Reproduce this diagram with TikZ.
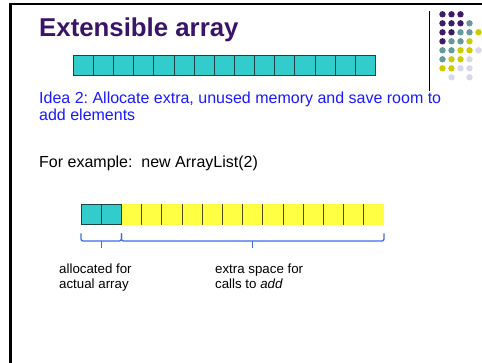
\documentclass[tikz,border=0pt]{standalone}
\usepackage{fontspec}
\setmainfont{Liberation Sans}
\frenchspacing
\definecolor{titlepurple}{HTML}{3A1468}
\definecolor{cellteal}{HTML}{33CCCC}
\definecolor{celledge}{HTML}{1E4444}
\definecolor{cellyellow}{HTML}{FFFF44}
\definecolor{yedge}{HTML}{4D4D1A}
\definecolor{ideablue}{HTML}{1A1AFF}
\definecolor{braceblue}{HTML}{3C6EE6}
\definecolor{dotP}{HTML}{3F1A66}
\definecolor{dotT}{HTML}{669999}
\definecolor{dotY}{HTML}{CCCC00}
\definecolor{dotL}{HTML}{D8D8EC}
\begin{document}
\begin{tikzpicture}[x=1pt,y=-1pt,
  tealcell/.style={draw=celledge,fill=cellteal,line width=1pt,minimum width=20.15pt,minimum height=20pt,inner sep=0pt,outer sep=0pt,anchor=north west},
  ycell/.style={fill=cellyellow,draw=none,minimum width=20.2pt,minimum height=20.7pt,inner sep=0pt,outer sep=0pt,anchor=north west},
  ysep/.style={draw=yedge,line width=0.9pt},
  brace/.style={draw=braceblue,line width=1.3pt,rounded corners=2pt},
  txt/.style={anchor=base west,inner sep=0pt},
  idea/.style={txt,text=ideablue,font=\fontsize{16}{18}\selectfont},
  body/.style={txt,text=black,font=\fontsize{16}{18}\selectfont},
  lbl/.style={txt,text=black,font=\fontsize{13.3}{15}\selectfont}]
\useasboundingbox (0,0) rectangle (482,363);
\fill[white] (0,0) rectangle (482,363);
% frame
\draw[line width=2pt] (9,4) -- (482,4);
\draw[line width=3pt] (10.5,3) -- (10.5,363);
% title
\node[txt,text=titlepurple,font=\fontsize{25.8}{30}\selectfont\bfseries] (title) at (39,36.7) {Extensible array};
% decoration: vertical rule and dots
\draw[line width=0.9pt] (429.3,11.5) -- (429.3,91);
\foreach \c/\r in {0/0,1/0,2/0,0/1,1/1,2/1,0/2,1/2,0/3}
  \fill[dotP] ({442.5+9*\c},{14.3+9*\r}) circle[radius=3.2pt];
\foreach \c/\r in {3/1,2/2,3/2,1/3,2/3,0/4,1/4,0/5}
  \fill[dotT] ({442.5+9*\c},{14.3+9*\r}) circle[radius=3.2pt];
\foreach \c/\r in {4/2,3/3,2/4,3/4,1/5,2/5,0/6,1/6}
  \fill[dotY] ({442.5+9*\c},{14.3+9*\r}) circle[radius=3.2pt];
\foreach \c/\r in {4/4,3/5,2/6,3/6,1/7,3/7}
  \fill[dotL] ({442.5+9*\c},{14.3+9*\r}) circle[radius=3.2pt];
% top array
\foreach \i in {0,...,14}
  \node[tealcell] (t\i) at ({73.3+20.15*\i},55.5) {};
% texts
\node[idea] (idea1) at (39,103.3) {Idea 2: Allocate extra, unused memory and save room to};
\node[idea] (idea2) at (39,121) {add elements};
\node[body] (example) at (39,167.5) {For example:\ \ new ArrayList(2)};
% bottom array
\foreach \i in {0,...,12}
  \node[ycell] (y\i) at ({121.4+20.2*\i},204.3) {};
\foreach \i in {1,...,12}
  \draw[ysep] (y\i.north west) -- (y\i.south west);
\node[tealcell,minimum width=20.2pt,minimum height=20.7pt] (a0) at (81,204.3) {};
\node[tealcell,minimum width=20.2pt,minimum height=20.7pt] (a1) at (101.2,204.3) {};
% braces
\coordinate (b1l) at (81,233.3);
\coordinate (b1r) at (121.4,233.3);
\coordinate (b2r) at (384,233.3);
\coordinate (b1t) at (101.2,248.5);
\coordinate (b2t) at (252.7,248.5);
\draw[brace] (b1l) -- (81,241) -- (121.4,241) -- (b1r);
\draw[brace] (101.2,241) -- (b1t);
\draw[brace] (b1r) -- (121.4,241) -- (384,241) -- (b2r);
\draw[brace] (252.7,241) -- (b2t);
% labels
\node[lbl] (alloc1) at (59,273.3) {allocated for};
\node[lbl] (alloc2) at (59,288.3) {actual array};
\node[lbl] (extra1) at (215,273.3) {extra space for};
\node[lbl] (extra2) at (215,288.3) {calls to \textit{add}};
\end{tikzpicture}
\end{document}
